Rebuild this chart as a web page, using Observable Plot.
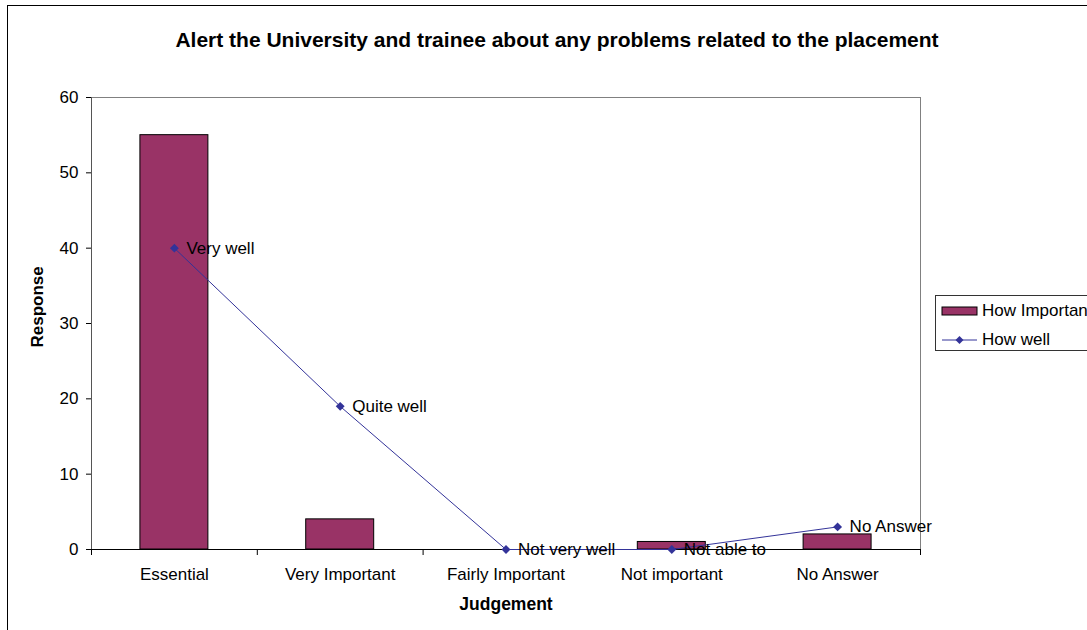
<!DOCTYPE html>
<html>
<head>
<meta charset="utf-8">
<script src="https://cdn.jsdelivr.net/npm/d3@7"></script>
<script src="https://cdn.jsdelivr.net/npm/@observablehq/plot@0.6"></script>
<style>
  html, body { margin: 0; padding: 0; background: #fff; overflow: hidden; }
  #wrap { position: relative; width: 1087px; height: 630px; overflow: hidden; font-family: "Liberation Sans", Arial, sans-serif; }
  #border { position: absolute; left: 7px; top: 5px; width: 1200px; height: 700px; border: 1.5px solid #000; box-sizing: border-box; }
  #title { position: absolute; left: 0; width: 1114px; top: 27px; text-align: center; font-weight: bold; font-size: 21px; line-height: 26px; color: #000; }
  #chart { position: absolute; left: 0; top: 0; }
  #legend { position: absolute; left: 935px; top: 295px; width: 200px; height: 56px; border: 1px solid #333; box-sizing: border-box; background: #fff; }
  .lrow { position: absolute; left: 0; font-size: 17px; color: #000; white-space: nowrap; }
  .lrow span { position: absolute; left: 46px; top: 0; line-height: 18px; }
  g[aria-label="x-axis label"] text { font-weight: bold; font-size: 17.5px; }
</style>
</head>
<body>
<div id="wrap">
  <div id="border"></div>
  <div id="title">Alert the University and trainee about any problems related to the placement</div>
  <div id="chart"></div>
  <div id="legend">
    <div class="lrow" style="top:6px;">
      <svg width="40" height="18" style="position:absolute;left:5px;top:0"><rect x="1" y="5" width="35" height="8" fill="#993366" stroke="#000" stroke-width="1"/></svg>
      <span>How Important</span>
    </div>
    <div class="lrow" style="top:35px;">
      <svg width="40" height="18" style="position:absolute;left:5px;top:0"><line x1="1" y1="9" x2="36" y2="9" stroke="#333399" stroke-width="1"/><path d="M18.5 5 L22.5 9 L18.5 13 L14.5 9 Z" fill="#333399"/></svg>
      <span>How well</span>
    </div>
  </div>
</div>
<script>
const categories = ["Essential", "Very Important", "Fairly Important", "Not important", "No Answer"];
const howImportant = [55, 4, 0, 1, 2];
const howWell = [40, 19, 0, 0, 3];
const wellLabels = ["Very well", "Quite well", "Not very well", "Not able to", "No Answer"];
const yTicks = [0, 10, 20, 30, 40, 50, 60];

const barColor = "#993366";
const lineColor = "#333399";
const barPad = 0.295;

const data = categories.map((c, i) => ({
  cat: c, i, imp: howImportant[i], well: howWell[i], lab: wellLabels[i]
}));
const centers = categories.map((c, i) => i + 0.5);
const bounds = d3.range(categories.length + 1);

const chart = Plot.plot({
  width: 1087,
  height: 630,
  marginLeft: 91,
  marginRight: 167,
  marginTop: 97,
  marginBottom: 81,
  x: { domain: [0, categories.length] },
  y: { domain: [0, 60] },
  style: { fontFamily: "'Liberation Sans', Arial, sans-serif", fontSize: "17px", color: "#000", background: "transparent" },
  marks: [
    Plot.frame({ stroke: "#808080" }),
    Plot.rectY(data, { x1: d => d.i + barPad, x2: d => d.i + 1 - barPad, y1: 0, y2: "imp", fill: barColor, stroke: "#000", strokeWidth: 1 }),
    Plot.ruleY([0], { stroke: "#000" }),
    Plot.ruleX([0], { stroke: "#555" }),
    Plot.axisY({ ticks: yTicks, tickSize: 5, tickPadding: 8, label: null }),
    Plot.text(["Response"], { frameAnchor: "left", rotate: -90, textAnchor: "start", dx: -54, dy: 24, fontSize: 17, fontWeight: "bold", fill: "#000" }),
    Plot.axisX({ ticks: centers, tickFormat: v => categories[Math.floor(v)], tickSize: 0, tickPadding: 18, label: "Judgement", labelAnchor: "center", labelOffset: 60, labelArrow: "none" }),
    Plot.axisX({ ticks: bounds, tickFormat: () => "", tickSize: 6, label: null }),
    Plot.line(data, { x: d => d.i + 0.5, y: "well", stroke: lineColor, strokeWidth: 1 }),
    Plot.dot(data, { x: d => d.i + 0.5, y: "well", symbol: "diamond2", r: 4, fill: lineColor, stroke: "none" }),
    Plot.text(data, { x: d => d.i + 0.5, y: "well", text: "lab", textAnchor: "start", dx: 12, fontSize: 17, fill: "#000" })
  ]
});
document.getElementById("chart").appendChild(chart);
</script>
</body>
</html>
